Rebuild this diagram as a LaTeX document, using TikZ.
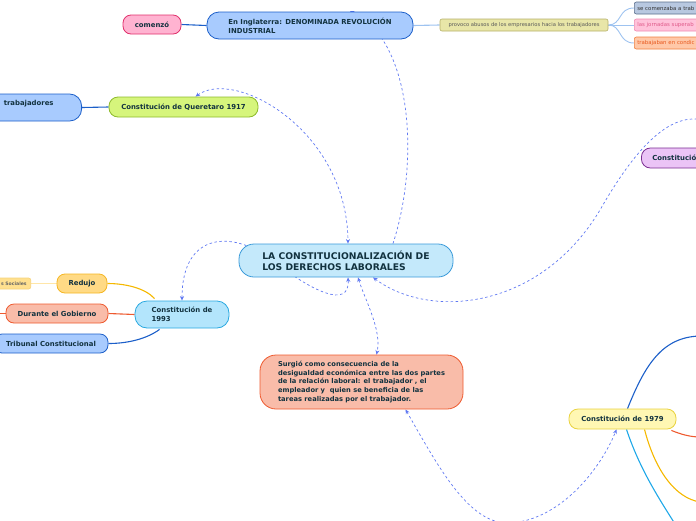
\documentclass[tikz,border=0pt]{standalone}
\usepackage{fontspec}
\setmainfont{DejaVu Sans}
\usetikzlibrary{arrows.meta}
\pgfdeclarelayer{background}
\pgfsetlayers{background,main}

\definecolor{txtdark}{HTML}{12323F}
\definecolor{relblue}{HTML}{5F78F2}
\definecolor{centfill}{HTML}{C4E9FB}
\definecolor{centline}{HTML}{3A9AD9}
\definecolor{bluefill}{HTML}{A8CBFE}
\definecolor{blueline}{HTML}{1C5FC9}
\definecolor{pinkfill}{HTML}{FFB3D1}
\definecolor{pinkline}{HTML}{E0306B}
\definecolor{khakifill}{HTML}{E8E6A8}
\definecolor{khakiline}{HTML}{B5B068}
\definecolor{paleblue}{HTML}{9EC3F0}
\definecolor{greyfill}{HTML}{B8C8E0}
\definecolor{greyline}{HTML}{5A6E8C}
\definecolor{rosefill}{HTML}{FFC2DA}
\definecolor{roseline}{HTML}{F08AB0}
\definecolor{rosetext}{HTML}{E05A8A}
\definecolor{apricotfill}{HTML}{FFC8A8}
\definecolor{apricotline}{HTML}{F08040}
\definecolor{apricottext}{HTML}{E85A20}
\definecolor{greenfill}{HTML}{D6F57C}
\definecolor{greenline}{HTML}{8DBA2B}
\definecolor{purplefill}{HTML}{EBC4F6}
\definecolor{purpleline}{HTML}{7B2D92}
\definecolor{skyfill}{HTML}{B3E5FC}
\definecolor{skyline}{HTML}{29A8E0}
\definecolor{goldfill}{HTML}{FFDA85}
\definecolor{goldline}{HTML}{F5B623}
\definecolor{goldbranch}{HTML}{F5B800}
\definecolor{lemonfill}{HTML}{FFE08F}
\definecolor{lemonline}{HTML}{F5D27A}
\definecolor{lemonbranch}{HTML}{FFE6A8}
\definecolor{salmonfill}{HTML}{F9BCA9}
\definecolor{salmonline}{HTML}{EE5A2F}
\definecolor{yellowfill}{HTML}{FFF7B3}
\definecolor{yellowline}{HTML}{E9D23F}
\definecolor{cyanbranch}{HTML}{1FA8E8}

\tikzset{
  topic/.style={draw, line width=0.8pt, rounded corners=8pt, align=left, inner sep=0pt,
    text=txtdark, font=\bfseries\fontsize{6.9}{9}\selectfont},
  smalltopic/.style={draw, line width=0.6pt, rounded corners=2pt, inner xsep=3pt, inner ysep=0pt,
    minimum height=12pt, font=\fontsize{5}{6}\selectfont},
  relation/.style={relblue, line width=0.7pt, dash pattern=on 2.5pt off 2.5pt},
  branch/.style={line width=1.1pt},
  >={Stealth[length=4.5pt,width=4pt]}
}

\begin{document}
\begin{tikzpicture}[x=1pt,y=-1pt]
  \useasboundingbox (0,0) rectangle (696,520);
  \clip (0,0) rectangle (696,520);

  % centre
  \node[topic, fill=centfill, draw=centline, minimum width=214pt, minimum height=33pt,
    rounded corners=15pt, font=\bfseries\fontsize{9.2}{11}\selectfont] (centro) at (346,260.5)
    {LA CONSTITUCIONALIZACIÓN DE\\LOS DERECHOS LABORALES};

  % top branch
  \node[topic, fill=bluefill, draw=blueline, minimum width=206pt, minimum height=27pt, rounded corners=12pt]
    (inglaterra) at (310,25.5) {En Inglaterra: DENOMINADA REVOLUCIÓN\\INDUSTRIAL};
  \node[topic, fill=pinkfill, draw=pinkline, minimum width=58pt, minimum height=19pt] (comenzo) at (152,24.5) {comenzó};
  \node[smalltopic, fill=khakifill, draw=khakiline, text=black!65, minimum width=168pt, font=\fontsize{5.2}{6}\selectfont] (provoco) at (524,25)
    {provoco abusos de los empresarios hacia los trabajadores};
  \node[smalltopic, anchor=west, fill=greyfill, draw=greyline, text=black!80, text width=90pt, font=\fontsize{5.4}{6}\selectfont] (trabajo) at (634,8) {se comenzaba a trab};
  \node[smalltopic, anchor=west, fill=rosefill, draw=roseline, text=rosetext, text width=90pt, font=\fontsize{5.4}{6}\selectfont] (jornadas) at (634,25) {las jornadas superab};
  \node[smalltopic, anchor=west, fill=apricotfill, draw=apricotline, text=apricottext, text width=90pt, font=\fontsize{5.4}{6}\selectfont] (condicion) at (634,43) {trabajaban en condic};

  % Queretaro
  \node[topic, fill=greenfill, draw=greenline, minimum width=149pt, minimum height=20pt, rounded corners=9pt] (queretaro) at (183.5,107) {Constitución de Queretaro 1917};
  \node[topic, anchor=east, fill=bluefill, draw=blueline, text width=100pt, align=right, inner xsep=28pt,
    minimum height=27pt, rounded corners=12pt] (trabajadores) at (82,107.5) {trabajadores\\\mbox{}};

  % right
  \node[topic, anchor=west, fill=purplefill, draw=purpleline, text width=80pt, inner xsep=11pt,
    minimum height=20pt, rounded corners=9pt] (purpura) at (641,158) {Constitución};

  % 1993
  \node[topic, fill=skyfill, draw=skyline, minimum width=94pt, minimum height=27pt, rounded corners=12pt] (c1993) at (182,314.5) {Constitución de\\1993};
  \node[topic, fill=goldfill, draw=goldline, minimum width=50pt, minimum height=19pt] (redujo) at (82,283.5) {Redujo};
  \node[draw, anchor=east, fill=lemonfill, draw=lemonline, line width=0.6pt, rounded corners=2pt, inner xsep=4pt,
    inner ysep=0pt, minimum height=11pt, text=black!60, font=\bfseries\fontsize{4.6}{5}\selectfont] (sociales) at (31,283.5) {s Sociales};
  \node[topic, fill=salmonfill, draw=salmonline, minimum width=102pt, minimum height=19pt] (durante) at (57,313.5) {Durante el Gobierno};
  \node[topic, fill=bluefill, draw=blueline, minimum width=114pt, minimum height=19pt] (tribunal) at (51,343.5) {Tribunal Constitucional};
  \coordinate (duranteizq) at (-10,313.5);

  % bottom
  \node[topic, fill=salmonfill, draw=salmonline, minimum width=203pt, minimum height=54pt, rounded corners=16pt,
    font=\bfseries\fontsize{6.7}{8.6}\selectfont] (surgio) at (361.5,382)
    {Surgió como consecuencia de la\\desigualdad económica entre las dos partes\\de la relación laboral: el trabajador , el\\empleador y\ \ quien se beneficia de las\\tareas realizadas por el trabajador.};
  \node[topic, fill=yellowfill, draw=yellowline, minimum width=107pt, minimum height=20pt, rounded corners=9pt] (c1979) at (622.5,419) {Constitución de 1979};
  \coordinate (azulfin) at (700,336);
  \coordinate (rojofin) at (700,437);
  \coordinate (orofin) at (700,502);
  \coordinate (cianfin) at (675,524);
  \coordinate (purpurafin) at (720,128);

  \begin{pgfonlayer}{background}
    % branches
    \draw[branch, blueline] (comenzo.east) -- (inglaterra.west);
    \draw[branch, paleblue] (inglaterra.east) -- (provoco.west);
    \draw[line width=0.9pt, paleblue] (provoco.east) .. controls (622,25) and (618,8) .. (trabajo.west);
    \draw[line width=0.9pt, paleblue] (provoco.east) -- (jornadas.west);
    \draw[line width=0.9pt, paleblue] (provoco.east) .. controls (622,25) and (618,43) .. (condicion.west);
    \draw[branch, blueline] (trabajadores.east) -- (queretaro.west);
    \draw[branch, goldbranch] ([xshift=20pt,yshift=2pt]c1993.north west) .. controls (145,288) and (125,283.5) .. (redujo.east);
    \draw[branch, lemonbranch] (sociales.east) -- (redujo.west);
    \draw[branch, salmonline] (c1993.west) -- (durante.east);
    \draw[branch, salmonline] (durante.west) -- (duranteizq);
    \draw[branch, blueline] ([xshift=25pt,yshift=-1pt]c1993.south west) .. controls (145,340) and (125,343.5) .. (tribunal.east);
    \draw[branch, blueline] ([xshift=5pt]c1979.north) .. controls (645,365) and (662,337) .. (azulfin);
    \draw[branch, salmonline] ([xshift=-5pt,yshift=-1pt]c1979.south east) .. controls (680,434) and (690,437) .. (rojofin);
    \draw[branch, goldbranch] ([xshift=22pt]c1979.south) .. controls (655,470) and (675,498) .. (orofin);
    \draw[branch, cyanbranch] ([xshift=4pt]c1979.south) .. controls (640,470) and (660,500) .. (cianfin);

    % relations
    \draw[relation, <->] ([xshift=12pt]queretaro.north) .. controls (235,68) and (347,130) .. ([xshift=2pt]centro.north);
    \draw[relation, ->] ([xshift=47pt]centro.north) .. controls (420,160) and (412,40) .. (350,11);
    \draw[relation, <->] (c1993.north) .. controls (182,230) and (235,230) .. (275,262)
      .. controls (310,290) and (350,310) .. ([xshift=2pt]centro.south);
    \draw[relation, <->] ([xshift=12pt]centro.south) .. controls (365,300) and (382,330) .. ([xshift=15pt]surgio.north);
    \draw[relation, <-] ([xshift=27pt]centro.south) .. controls (430,320) and (540,310) .. (600,210)
      .. controls (640,140) and (680,100) .. (purpurafin);
    \draw[relation, <->] ([xshift=44pt]surgio.south) .. controls (440,470) and (470,525) .. (510,523)
      .. controls (560,520) and (600,470) .. ([xshift=-6pt]c1979.south);
  \end{pgfonlayer}
\end{tikzpicture}
\end{document}
